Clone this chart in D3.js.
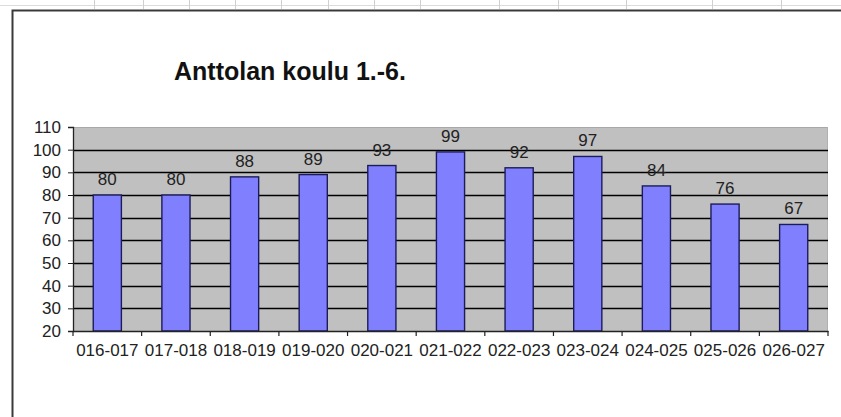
<!DOCTYPE html>
<html>
<head>
<meta charset="utf-8">
<script src="https://cdn.jsdelivr.net/npm/d3@7"></script>
<style>
  html, body { margin: 0; padding: 0; background: #fff; }
  svg { display: block; }
  text { font-family: "Liberation Sans", Arial, sans-serif; }
</style>
</head>
<body>
<svg id="chart" width="841" height="417"></svg>
<script>
const title = "Anttolan koulu 1.-6.";
const categories = ["016-017","017-018","018-019","019-020","020-021","021-022","022-023","023-024","024-025","025-026","026-027"];
const values = [80, 80, 88, 89, 93, 99, 92, 97, 84, 76, 67];
const yTicks = [20, 30, 40, 50, 60, 70, 80, 90, 100, 110];
const sheetColumnLines = [94, 143, 189, 235, 281, 328, 374, 420, 499, 558, 626, 712, 781];

(function () {
const svg = d3.select("#chart");
const W = 841, H = 417;

// spreadsheet strip at top
svg.append("rect").attr("x", 0).attr("y", 0).attr("width", W).attr("height", H).attr("fill", "#fff");
svg.append("line").attr("x1", 0).attr("x2", W).attr("y1", 5.5).attr("y2", 5.5)
  .attr("stroke", "#dcdcdc").attr("stroke-width", 1);
svg.selectAll("line.col").data(sheetColumnLines).enter().append("line")
  .attr("class", "col")
  .attr("x1", d => d + 0.5).attr("x2", d => d + 0.5)
  .attr("y1", 0).attr("y2", 9)
  .attr("stroke", "#d0d0d0").attr("stroke-width", 1);

// chart frame
svg.append("rect")
  .attr("x", 12.5).attr("y", 10.5).attr("width", 900).attr("height", 500)
  .attr("fill", "#fff").attr("stroke", "#3a3a3a").attr("stroke-width", 2);

// title
svg.append("text")
  .attr("x", 290).attr("y", 80)
  .attr("text-anchor", "middle")
  .attr("font-size", 25).attr("font-weight", "bold").attr("fill", "#111")
  .text(title);

// plot area
const pLeft = 73, pRight = 828, pTop = 127, pBottom = 331;
const y = d3.scaleLinear().domain([20, 110]).range([pBottom, pTop]);
const xSlot = d3.scaleBand().domain(categories).range([pLeft, pRight]).padding(0);
const barFrac = 0.41;

svg.append("rect")
  .attr("x", pLeft).attr("y", pTop).attr("width", pRight - pLeft).attr("height", pBottom - pTop)
  .attr("fill", "#c0c0c0");
svg.append("line").attr("x1", pLeft).attr("x2", pRight).attr("y1", pTop + 0.5).attr("y2", pTop + 0.5)
  .attr("stroke", "#a8a8a8");
svg.append("line").attr("x1", pRight - 0.5).attr("x2", pRight - 0.5).attr("y1", pTop).attr("y2", pBottom)
  .attr("stroke", "#b0b0b0");

// gridlines
svg.selectAll("line.grid").data(yTicks.filter(t => t > 20 && t < 110)).enter().append("line")
  .attr("class", "grid")
  .attr("x1", pLeft).attr("x2", pRight)
  .attr("y1", d => Math.round(y(d)) + 0.5).attr("y2", d => Math.round(y(d)) + 0.5)
  .attr("stroke", "#000").attr("stroke-width", 1.5);

// bars
const bw = xSlot.bandwidth() * barFrac;
svg.selectAll("rect.bar").data(values).enter().append("rect")
  .attr("class", "bar")
  .attr("x", (d, i) => xSlot(categories[i]) + (xSlot.bandwidth() - bw) / 2)
  .attr("y", d => y(d))
  .attr("width", bw)
  .attr("height", d => y(20) - y(d))
  .attr("fill", "#8080ff").attr("stroke", "#1c1c5a").attr("stroke-width", 1.4);

// value labels
svg.selectAll("text.val").data(values).enter().append("text")
  .attr("class", "val")
  .attr("x", (d, i) => xSlot(categories[i]) + xSlot.bandwidth() / 2)
  .attr("y", d => y(d) - 10)
  .attr("text-anchor", "middle")
  .attr("font-size", 17).attr("fill", "#222")
  .text(d => d);

// y axis
const yAxis = d3.axisLeft(y).tickValues(yTicks).tickSize(5).tickPadding(7);
const gy = svg.append("g").attr("transform", `translate(${pLeft},0)`).call(yAxis);
gy.select(".domain").attr("stroke", "#222").attr("stroke-width", 1.3);
gy.selectAll(".tick line").attr("stroke", "#222");
gy.selectAll(".tick text").attr("font-size", 17).attr("fill", "#222")
  .attr("font-family", "'Liberation Sans', Arial, sans-serif");

// x axis
const xAxis = d3.axisBottom(xSlot).tickSize(0).tickPadding(13);
const gx = svg.append("g").attr("transform", `translate(0,${pBottom})`).call(xAxis);
gx.select(".domain").attr("stroke", "#222").attr("stroke-width", 1.3);
gx.selectAll(".tick text").attr("font-size", 17).attr("fill", "#222")
  .attr("font-family", "'Liberation Sans', Arial, sans-serif");
// tick marks at category boundaries
const boundaries = categories.map(c => xSlot(c)).concat([pRight]);
gx.selectAll("line.bt").data(boundaries).enter().append("line")
  .attr("class", "bt")
  .attr("x1", d => d).attr("x2", d => d)
  .attr("y1", 0).attr("y2", 5)
  .attr("stroke", "#222").attr("stroke-width", 1.2);
})();
</script>
</body>
</html>
